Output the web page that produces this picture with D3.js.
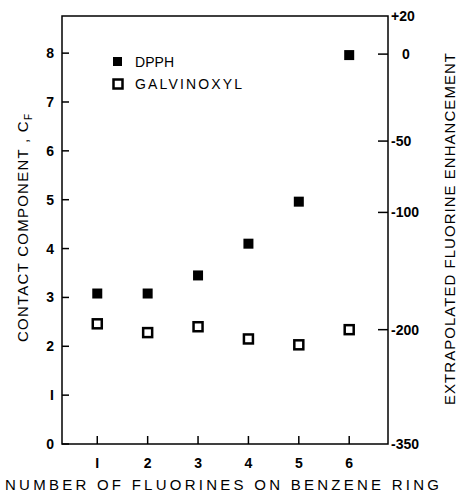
<!DOCTYPE html>
<html><head><meta charset="utf-8">
<script src="https://cdn.jsdelivr.net/npm/d3@7"></script>
<style>html,body{margin:0;padding:0;background:#fff}</style>
</head><body>
<svg id="c" width="457" height="493"></svg>
<script>
const fluorines = [1, 2, 3, 4, 5, 6];
const dpph = [3.08, 3.08, 3.45, 4.10, 4.96, 7.96];
const galvinoxyl = [2.46, 2.28, 2.40, 2.15, 2.03, 2.34];
const leftTicks = [0, 1, 2, 3, 4, 5, 6, 7, 8];
const leftTickLabels = ["0", "I", "2", "3", "4", "5", "6", "7", "8"];
const rightTicks = [20, 0, -50, -100, -200, -350];
const rightTickLabels = ["+20", "0", "-50", "-100", "-200", "-350"];
// C_F value equivalent of each enhancement tick (nonlinear right axis)
const rightTickCF = [8.76, 7.98, 6.20, 4.74, 2.34, 0];
const xTickLabels = ["I", "2", "3", "4", "5", "6"];

const svg = d3.select("#c");
const L = 62, R = 388, T = 16, B = 444;
const font = "'Liberation Sans', Arial, sans-serif";
const x = d3.scaleLinear().domain([0.3, 6.77]).range([L, R]);
const y = d3.scaleLinear().domain([0, 8.76]).range([B, T]);
const enh = d3.scaleLinear().domain(rightTicks.slice().reverse()).range(rightTickCF.slice().reverse());
const yr = v => y(enh(v));

// frame
svg.append("rect").attr("x", L).attr("y", T).attr("width", R - L).attr("height", B - T)
  .attr("fill", "none").attr("stroke", "#000").attr("stroke-width", 1.5);

// left axis ticks
const gl = svg.append("g");
leftTicks.forEach((t, i) => {
  gl.append("line").attr("x1", L).attr("x2", L + 7).attr("y1", y(t)).attr("y2", y(t))
    .attr("stroke", "#000").attr("stroke-width", 1.5);
  gl.append("text").attr("x", L - 8).attr("y", y(t)).attr("dy", "0.36em")
    .attr("text-anchor", "end").attr("font-family", font).attr("font-size", 14).attr("font-weight", "bold")
    .text(leftTickLabels[i]);
});

// right axis ticks
const gr = svg.append("g");
rightTicks.forEach((t, i) => {
  const yy = yr(t);
  if (t !== 20 && t !== -350) {
    gr.append("line").attr("x1", R - 10).attr("x2", R).attr("y1", yy).attr("y2", yy)
      .attr("stroke", "#000").attr("stroke-width", 1.5);
  }
  gr.append("text").attr("x", R + 3 + (t === 0 ? 11 : 0)).attr("y", yy).attr("dy", "0.36em")
    .attr("text-anchor", "start").attr("font-family", font).attr("font-size", 14).attr("font-weight", "bold")
    .text(rightTickLabels[i]);
});

// bottom axis ticks
const gb = svg.append("g");
fluorines.forEach((f, i) => {
  gb.append("line").attr("x1", x(f)).attr("x2", x(f)).attr("y1", B).attr("y2", B - 8)
    .attr("stroke", "#000").attr("stroke-width", 1.5);
  gb.append("text").attr("x", x(f)).attr("y", 468).attr("text-anchor", "middle")
    .attr("font-family", font).attr("font-size", 14).attr("font-weight", "bold")
    .text(xTickLabels[i]);
});

// axis titles
svg.append("text").attr("x", 222).attr("y", 490).attr("text-anchor", "middle")
  .attr("font-family", font).attr("font-size", 15)
  .attr("textLength", 434).attr("lengthAdjust", "spacing")
  .text("NUMBER OF FLUORINES ON BENZENE RING");

const lt = svg.append("text").attr("transform", "translate(28,228) rotate(-90)")
  .attr("text-anchor", "middle").attr("font-family", font).attr("font-size", 15)
  .attr("textLength", 228).attr("lengthAdjust", "spacing");
lt.append("tspan").text("CONTACT COMPONENT , C");
lt.append("tspan").attr("font-size", 10).attr("dy", 4).text("F");

svg.append("text").attr("transform", "translate(455,229) rotate(-90)")
  .attr("text-anchor", "middle").attr("font-family", font).attr("font-size", 15)
  .attr("textLength", 352).attr("lengthAdjust", "spacing")
  .text("EXTRAPOLATED FLUORINE ENHANCEMENT");

// data markers
const s = 10;
svg.append("g").selectAll("rect").data(fluorines).join("rect")
  .attr("x", (d) => x(d) - s / 2).attr("y", (d, i) => y(dpph[i]) - s / 2)
  .attr("width", s).attr("height", s).attr("fill", "#000");
svg.append("g").selectAll("rect").data(fluorines).join("rect")
  .attr("x", (d) => x(d) - 4.5).attr("y", (d, i) => y(galvinoxyl[i]) - 4.5)
  .attr("width", 9).attr("height", 9).attr("fill", "none").attr("stroke", "#000").attr("stroke-width", 2.5);

// legend
const lg = svg.append("g");
lg.append("rect").attr("x", 113).attr("y", 57).attr("width", 9).attr("height", 9).attr("fill", "#000");
lg.append("text").attr("x", 135).attr("y", 67).attr("font-family", font).attr("font-size", 14)
  .attr("textLength", 39).attr("lengthAdjust", "spacing").text("DPPH");
lg.append("rect").attr("x", 113.5).attr("y", 79.5).attr("width", 9).attr("height", 9)
  .attr("fill", "none").attr("stroke", "#000").attr("stroke-width", 2.5);
lg.append("text").attr("x", 135).attr("y", 89).attr("font-family", font).attr("font-size", 14)
  .attr("textLength", 107).attr("lengthAdjust", "spacing").text("GALVINOXYL");
</script>
</body></html>
